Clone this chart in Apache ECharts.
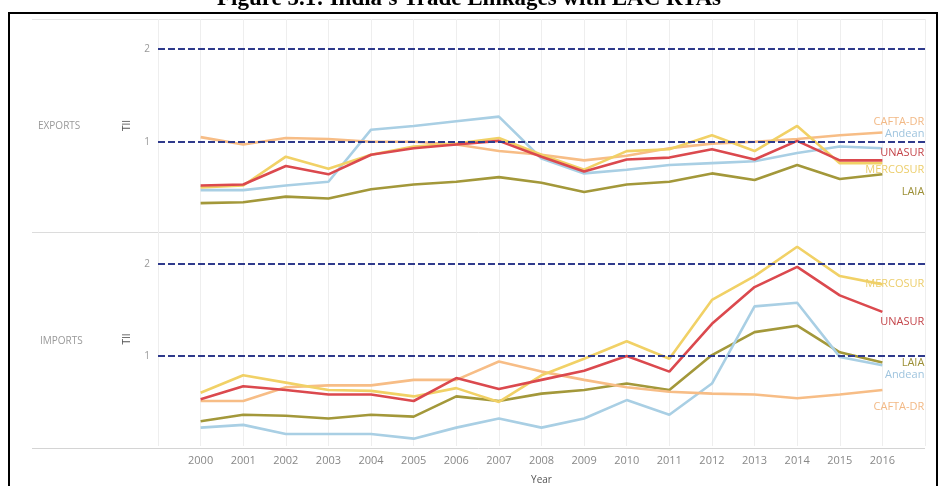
<!DOCTYPE html>
<html><head><meta charset="utf-8">
<script src="https://cdn.jsdelivr.net/npm/echarts@6/dist/echarts.min.js"></script>
<style>html,body{margin:0;padding:0;background:#fff}#c{width:941px;height:486px}</style>
</head><body><div id="c"></div>
<script>
const years = [2000,2001,2002,2003,2004,2005,2006,2007,2008,2009,2010,2011,2012,2013,2014,2015,2016];
const seriesNames = ['CAFTA-DR','Andean','UNASUR','MERCOSUR','LAIA'];
const panelNames = ['EXPORTS','IMPORTS'];
const referenceLevels = [1, 2];

// Exports TII
const expCAFTA    = [1.05,0.97,1.04,1.03,1.00,1.00,0.97,0.90,0.86,0.80,0.85,0.93,0.98,1.00,1.03,1.07,1.10];
const expAndean   = [0.48,0.48,0.53,0.57,1.13,1.17,1.22,1.27,0.82,0.66,0.70,0.75,0.77,0.79,0.88,0.95,0.93];
const expUNASUR   = [0.53,0.54,0.74,0.65,0.86,0.93,0.97,1.01,0.84,0.68,0.81,0.83,0.92,0.81,1.01,0.80,0.80];
const expMERCOSUR = [0.51,0.53,0.84,0.71,0.86,0.95,0.98,1.04,0.86,0.70,0.90,0.92,1.07,0.90,1.17,0.77,0.77];
const expLAIA     = [0.34,0.35,0.41,0.39,0.49,0.54,0.57,0.62,0.56,0.46,0.54,0.57,0.66,0.59,0.75,0.60,0.65];

// Imports TII
const impCAFTA    = [0.51,0.51,0.66,0.68,0.68,0.74,0.74,0.94,0.83,0.74,0.66,0.61,0.59,0.58,0.54,0.58,0.63];
const impAndean   = [0.22,0.25,0.15,0.15,0.15,0.10,0.22,0.32,0.22,0.32,0.52,0.36,0.70,1.54,1.58,0.99,0.90];
const impUNASUR   = [0.53,0.67,0.63,0.58,0.58,0.51,0.76,0.64,0.74,0.84,1.00,0.83,1.35,1.75,1.97,1.66,1.48];
const impMERCOSUR = [0.60,0.79,0.71,0.63,0.62,0.56,0.65,0.50,0.79,0.97,1.16,0.97,1.61,1.87,2.19,1.87,1.78];
const impLAIA     = [0.29,0.36,0.35,0.32,0.36,0.34,0.56,0.51,0.59,0.63,0.70,0.63,1.01,1.26,1.33,1.04,0.93];

const lineColors  = {'CAFTA-DR':'#f7bd86','Andean':'#a9cfe4','UNASUR':'#db494e','MERCOSUR':'#f1d166','LAIA':'#a3983a'};
const labelColors = {'CAFTA-DR':'#f2b986','Andean':'#9fc4de','UNASUR':'#c4464b','MERCOSUR':'#ecce6c','LAIA':'#9c8f36'};
const labelDy = [
  {'CAFTA-DR':-11,'Andean':-14,'UNASUR':-8,'MERCOSUR':7,'LAIA':18},
  {'CAFTA-DR':17,'Andean':10,'UNASUR':10,'MERCOSUR':0,'LAIA':0}
];
const panelData = [
  {'CAFTA-DR':expCAFTA,'Andean':expAndean,'UNASUR':expUNASUR,'MERCOSUR':expMERCOSUR,'LAIA':expLAIA},
  {'CAFTA-DR':impCAFTA,'Andean':impAndean,'UNASUR':impUNASUR,'MERCOSUR':impMERCOSUR,'LAIA':impLAIA}
];

const FONT = '"Open Sans", sans-serif';
const drawOrder = ['LAIA','Andean','CAFTA-DR','MERCOSUR','UNASUR'];

const series = [];
for (let p = 0; p < 2; p++) {
  drawOrder.forEach((name, k) => {
    const s = {
      name: name,
      type: 'line',
      xAxisIndex: p, yAxisIndex: p,
      data: years.map((y, i) => [y, panelData[p][name][i]]),
      showSymbol: false, symbol: 'none',
      lineStyle: {color: lineColors[name], width: 2.6},
      itemStyle: {color: lineColors[name]},
      silent: true,
      z: 3 + k,
      endLabel: {
        show: true,
        formatter: name,
        distance: 0,
        offset: [42, labelDy[p][name]],
        align: 'right',
        color: labelColors[name],
        fontSize: 11,
        fontFamily: FONT
      }
    };
    if (k === 0) {
      s.markLine = {
        silent: true,
        symbol: 'none',
        label: {show: false},
        lineStyle: {color: '#2f3a8c', type: [7, 3], width: 2},
        data: referenceLevels.map(v => ({yAxis: v})),
        z: 10
      };
    }
    series.push(s);
  });
}

const xAxisBase = (idx) => ({
  type: 'value', gridIndex: idx, min: 1999, max: 2017, interval: 1,
  axisLine: {show: false}, axisTick: {show: false},
  splitLine: {show: true, lineStyle: {color: '#eeeeee', width: 1}},
});
const yAxisBase = (idx, mn, mx) => ({
  type: 'value', gridIndex: idx, min: mn, max: mx,
  axisLine: {show: false}, axisTick: {show: false}, splitLine: {show: false},
  axisLabel: {
    margin: 8, color: '#999', fontSize: 10, fontFamily: FONT,
    formatter: v => (Math.abs(v - 1) < 1e-6 || Math.abs(v - 2) < 1e-6) ? String(Math.round(v)) : ''
  },
  name: 'TII', nameLocation: 'middle', nameRotate: 90, nameGap: 26,
  nameTextStyle: {color: '#555', fontSize: 10, fontFamily: FONT}
});

const x0 = xAxisBase(0); x0.axisLabel = {show: false};
const x1 = xAxisBase(1);
x1.axisLabel = {
  show: true, color: '#888', fontSize: 11, fontFamily: FONT, margin: 9,
  formatter: v => (v >= years[0] && v <= years[years.length - 1]) ? String(v) : ''
};
x1.name = 'Year'; x1.nameLocation = 'middle'; x1.nameGap = 29;
x1.nameTextStyle = {color: '#555', fontSize: 10, fontFamily: FONT};

const option = {
  animation: false,
  backgroundColor: '#ffffff',
  grid: [
    {left: 158, right: 16, top: 19, height: 213},
    {left: 158, right: 16, top: 232, height: 216}
  ],
  xAxis: [x0, x1],
  yAxis: [yAxisBase(0, 0.03, 2.32), yAxisBase(1, 0.02, 2.35)],
  series: series,
  graphic: [
    {type: 'rect', shape: {x: 9, y: 13, width: 928, height: 490}, style: {fill: 'none', stroke: '#000', lineWidth: 2}, silent: true, z: 100},
    {type: 'line', shape: {x1: 32, y1: 19.5, x2: 925, y2: 19.5}, style: {stroke: '#e6e6e6', lineWidth: 1}, silent: true},
    {type: 'line', shape: {x1: 32, y1: 232.5, x2: 925, y2: 232.5}, style: {stroke: '#dcdcdc', lineWidth: 1}, silent: true},
    {type: 'line', shape: {x1: 32, y1: 448.5, x2: 925, y2: 448.5}, style: {stroke: '#d4d4d4', lineWidth: 1}, silent: true},
    {type: 'text', x: 38, y: 126, style: {text: panelNames[0], fill: '#999', fontSize: 10, fontFamily: FONT, verticalAlign: 'middle'}, silent: true},
    {type: 'text', x: 40, y: 341, style: {text: panelNames[1], fill: '#999', fontSize: 10, fontFamily: FONT, verticalAlign: 'middle'}, silent: true},
    {type: 'text', x: 469, y: -1, style: {text: "Figure 5.1: India's Trade Linkages with LAC RTAs", fill: '#000', fontSize: 23, fontWeight: 'bold', fontFamily: '"Liberation Serif", "Times New Roman", serif', align: 'center', verticalAlign: 'middle'}, silent: true}
  ]
};

const chart = echarts.init(document.getElementById('c'), null, {renderer: 'canvas'});
chart.setOption(option);
</script>
</body></html>
